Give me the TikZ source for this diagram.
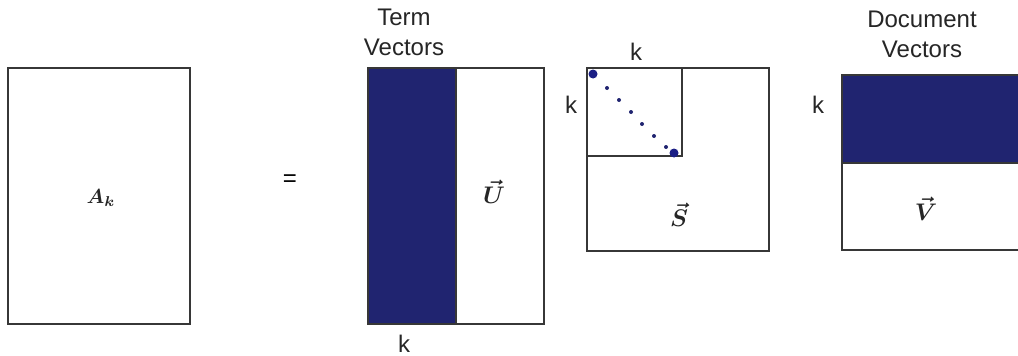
\documentclass[tikz,border=0pt]{standalone}
\usepackage{fontspec}
\setmainfont{Liberation Sans}
\definecolor{navy}{RGB}{32,36,112}
\definecolor{edge}{RGB}{55,55,55}
\begin{document}
\begin{tikzpicture}[x=1pt,y=-1pt,
  mbox/.style={draw=edge,line width=1.6pt},
  fillbox/.style={draw=edge,line width=1.6pt,fill=navy},
  lbl/.style={font=\fontsize{24}{30}\selectfont, align=center, inner sep=0pt, text=black!85},
  klbl/.style={font=\fontsize{24}{26}\selectfont, inner sep=0pt, text=black!85},
  mlab/.style={inner sep=0pt, scale=2.4, transform shape, font=\boldmath, text=black!85},
  sdot/.style={circle,fill=navy,draw=none,inner sep=0pt,minimum size=4pt},
  bdot/.style={circle,fill=navy!85!blue,draw=none,inner sep=0pt,minimum size=9pt}]
\useasboundingbox (0,0) rectangle (1018,356);
\clip (0,0) rectangle (1018,356);
\fill[white] (0,0) rectangle (1018,356);

% A_k
\draw[mbox] (8,68) rectangle (190,324);
\node[mlab, scale=0.85] (Ak) at (101,198) {$A_k$};

% equals
\node[font=\fontsize{24}{26}\selectfont] (eq) at (290,181) {=};

% U
\draw[fillbox] (368,68) rectangle (456,324);
\draw[mbox] (456,68) rectangle (544,324);
\node[mlab] (U) at (494,192) {$\vec{U}$};
\node[lbl] (termv) at (404,32) {Term\\Vectors};
\node[klbl] (kU) at (404,344) {k};

% S
\draw[mbox] (587,68) rectangle (769,251);
\draw[mbox] (587,68) rectangle (682,156);
\node[mlab] (S) at (679,215) {$\vec{S}$};
\node[klbl] (kSt) at (636,52) {k};
\node[klbl] (kSl) at (571,105) {k};
\node[bdot] (d0) at (593,74) {};
\node[sdot] (d1) at (607,88) {};
\node[sdot] (d2) at (619,100) {};
\node[sdot] (d3) at (631,112) {};
\node[sdot] (d4) at (642,124) {};
\node[sdot] (d5) at (654,136) {};
\node[sdot] (d6) at (666,147) {};
\node[bdot] (d7) at (674,153) {};

% V
\draw[fillbox] (842,75) rectangle (1030,163);
\draw[mbox] (842,163) rectangle (1030,250);
\node[mlab] (V) at (926,209) {$\vec{V}$};
\node[lbl] (docv) at (922,34) {Document\\Vectors};
\node[klbl] (kV) at (818,105) {k};
\end{tikzpicture}
\end{document}
